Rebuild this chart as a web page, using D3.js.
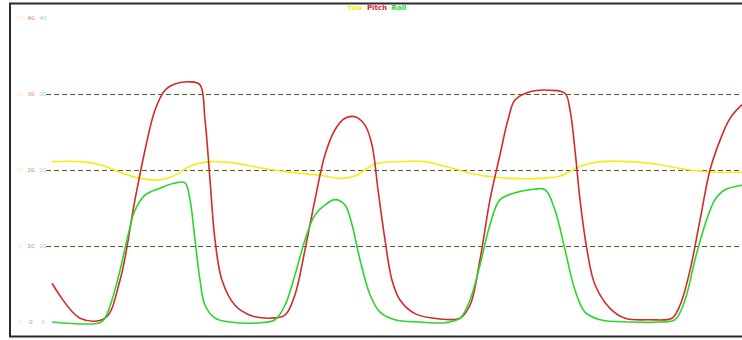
<!DOCTYPE html>
<html><head><meta charset="utf-8">
<script src="https://cdn.jsdelivr.net/npm/d3@7"></script>
<style>body{margin:0;background:#fff}svg{display:block}</style>
</head><body>
<svg id="c" width="742" height="340"></svg>
<script>
const seriesNames = ["Yaw", "Pitch", "Roll"];
const seriesColors = ["#f2ee1a", "#d42a2a", "#2bd62b"];
const levels = [0, 10, 20, 30, 40];
const yawTickLabels = ["0", "5", "10", "15", "20"];
const pitchTickLabels = ["0", "10", "20", "30", "40"];
const rollTickLabels = ["0", "10", "20", "30", "40"];
const gridLevels = [10, 20, 30];

const yawT = [0,28,48,68,88,108,123,138,158,183,208,238,268,288,303,323,348,373,398,428,458,488,508,528,548,578,608,638,668,690];
const yawV = [21.1,21.1,20.7,19.7,18.9,18.7,19.3,20.5,21.1,20.9,20.3,19.7,19.3,18.9,19.2,20.8,21.1,21.1,20.3,19.3,18.9,18.9,19.2,20.5,21.1,21.1,20.7,20.0,19.7,19.7];

const pitchT = [0,28,53,68,83,93,103,113,123,138,148,153,158,163,170,183,198,218,233,243,253,263,273,283,293,303,313,320,326,333,340,348,363,388,408,418,428,438,448,456,463,478,498,513,518,523,528,535,543,558,573,598,620,628,638,648,658,668,678,690];
const pitchV = [5.1,0.5,0.5,5.5,16.1,22.6,27.9,30.5,31.3,31.6,31.2,26.6,18.7,10.8,5.5,2.2,0.9,0.5,0.9,3.6,9.5,16.1,22.0,25.3,26.8,27.0,25.9,23.3,17.4,10.8,5.5,2.9,1.1,0.4,0.5,2.2,8.2,16.1,22.0,26.6,29.2,30.3,30.5,30.1,27.9,22.6,16.1,9.5,4.9,1.8,0.5,0.3,0.5,2.2,6.8,13.4,20.0,23.9,26.8,28.6];

const rollT = [0,48,53,60,68,76,83,93,108,123,133,138,143,148,153,163,178,208,223,233,243,253,263,273,283,293,300,308,318,328,343,368,393,408,418,428,438,448,463,478,493,503,513,523,533,548,578,608,623,633,643,653,663,673,690];
const rollV = [0.0,-0.1,0.5,2.9,6.8,11.4,14.7,16.7,17.6,18.3,18.3,16.1,10.8,5.5,2.2,0.5,0.0,-0.1,0.3,2.2,6.2,10.8,14.1,15.4,16.1,15.4,12.8,8.2,3.6,1.3,0.3,0.0,-0.1,0.5,2.9,7.5,12.8,16.1,17.0,17.4,17.4,14.7,9.5,4.2,1.3,0.3,0.0,0.0,0.3,2.9,8.2,12.8,16.1,17.4,18.0];

const svg = d3.select("#c");
const x = d3.scaleLinear().domain([0, 690]).range([52, 742]);
const y = d3.scaleLinear().domain([0, 40]).range([322, 18]);

// frame
svg.append("rect").attr("x", 10).attr("y", 3.5).attr("width", 745).attr("height", 333)
  .attr("fill", "none").attr("stroke", "#2a2a2a").attr("stroke-width", 2);

// gridlines
svg.append("g").selectAll("line").data(gridLevels).join("line")
  .attr("x1", 46).attr("x2", 742)
  .attr("y1", d => Math.round(y(d)) + 0.5).attr("y2", d => Math.round(y(d)) + 0.5)
  .attr("stroke", "#5c5a22").attr("stroke-width", 1).attr("stroke-dasharray", "5,3");

// tick labels
const tickCols = [
  {labels: yawTickLabels, x: 20, color: "#eef0a0"},
  {labels: pitchTickLabels, x: 31, color: "#e0708a"},
  {labels: rollTickLabels, x: 43, color: "#90d8b0"}
];
tickCols.forEach(tc => {
  svg.append("g").selectAll("text").data(levels).join("text")
    .attr("x", tc.x).attr("y", d => y(d) + 2)
    .attr("text-anchor", "middle")
    .attr("font-family", "DejaVu Sans, sans-serif").attr("font-size", 5.5)
    .attr("fill", tc.color)
    .text((d, i) => tc.labels[i]);
});

// lines
const line = d3.line().x(d => x(d[0])).y(d => y(d[1])).curve(d3.curveCatmullRom.alpha(0.5));
const series = [[yawT, yawV], [pitchT, pitchV], [rollT, rollV]];
series.forEach((s, i) => {
  svg.append("path").datum(s[0].map((t, j) => [t, s[1][j]]))
    .attr("fill", "none").attr("stroke", seriesColors[i]).attr("stroke-width", 1.6)
    .attr("d", line);
});

// legend
const legX = [355, 377, 399];
svg.append("g").selectAll("text").data(seriesNames).join("text")
  .attr("x", (d, i) => legX[i]).attr("y", 10)
  .attr("text-anchor", "middle")
  .attr("font-family", "DejaVu Sans, sans-serif").attr("font-size", 7).attr("font-weight", "bold")
  .attr("fill", (d, i) => seriesColors[i])
  .text(d => d);
</script>
</body></html>
